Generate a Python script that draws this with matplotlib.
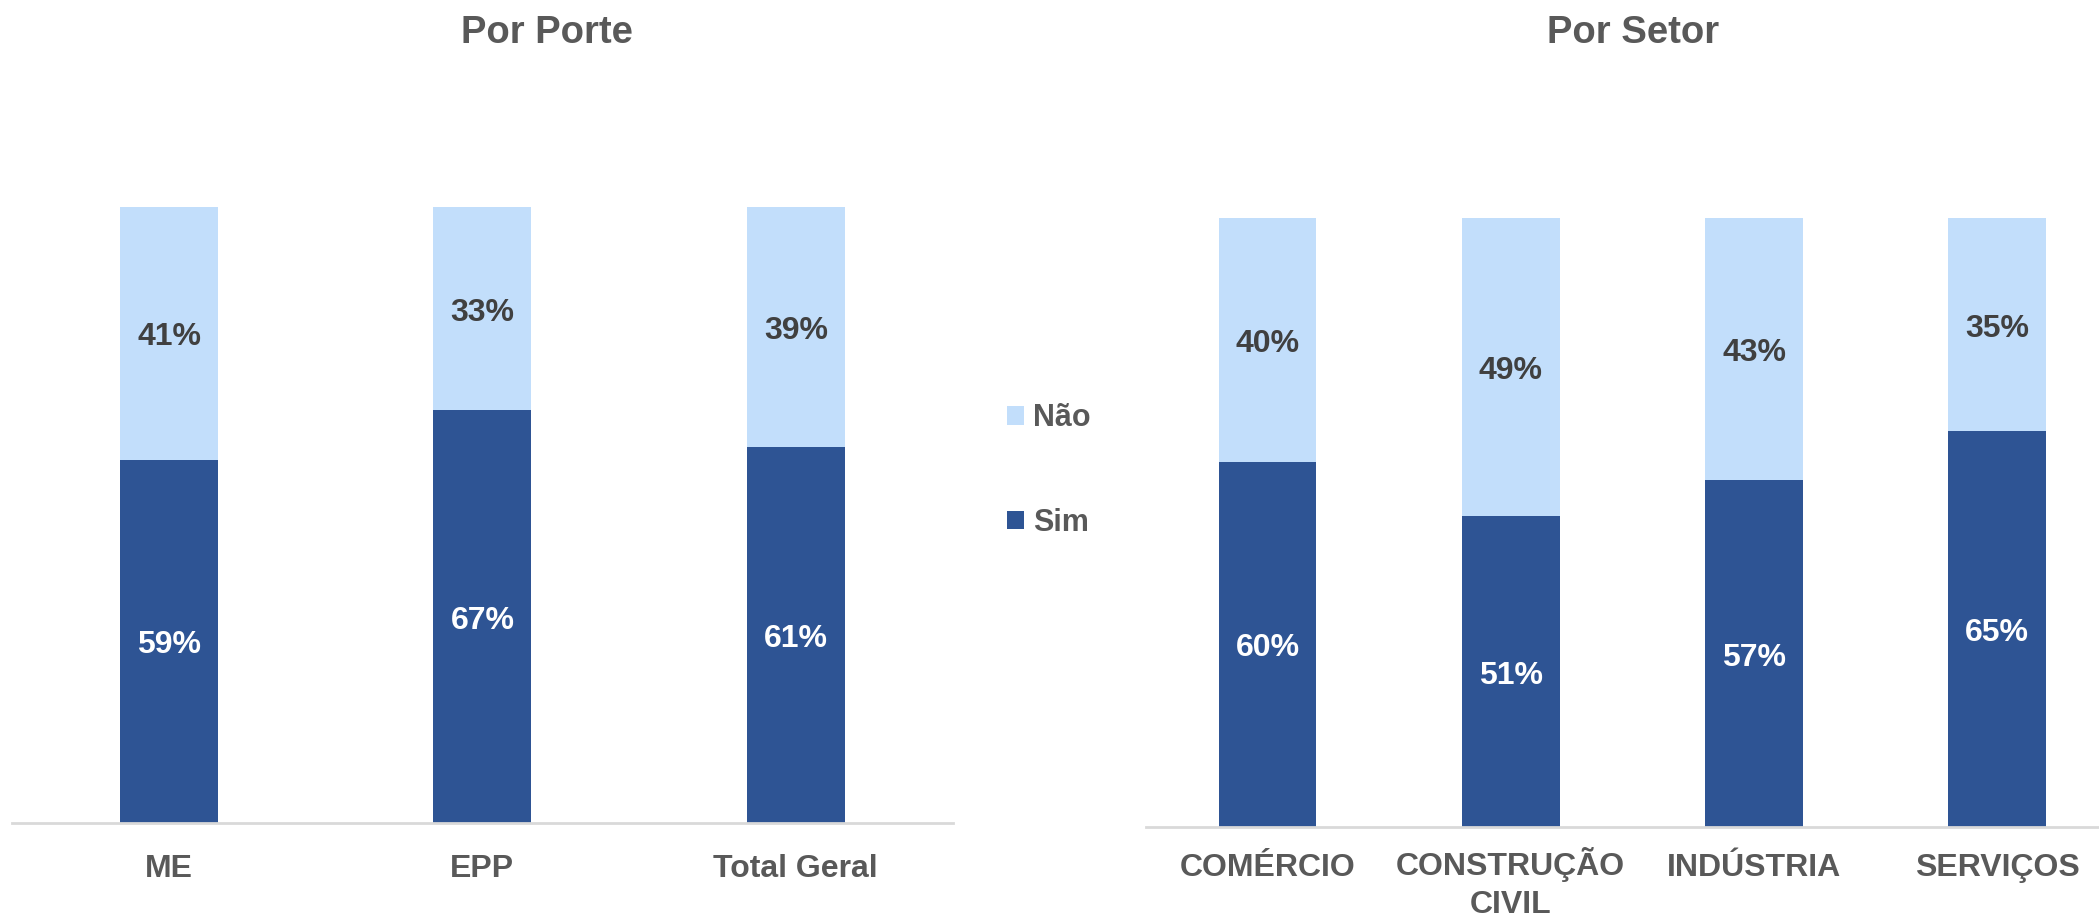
import matplotlib
matplotlib.use("Agg")
import matplotlib.pyplot as plt
from matplotlib.patches import Patch

plt.rcParams['font.family'] = ['Liberation Sans', 'DejaVu Sans']

# ---- data ----
porte_cats = ["ME", "EPP", "Total Geral"]
porte_sim = [0.59, 0.67, 0.61]
porte_nao = [0.41, 0.33, 0.39]

setor_cats = ["COMÉRCIO", "CONSTRUÇÃO\nCIVIL", "INDÚSTRIA", "SERVIÇOS"]
setor_sim = [0.60, 0.51, 0.57, 0.65]
setor_nao = [0.40, 0.49, 0.43, 0.35]

series_names = ["Sim", "Não"]
titles = ["Por Porte", "Por Setor"]

C_SIM = "#2E5494"
C_NAO = "#C2DEFB"
C_TXT = "#595959"
C_LBL_DARK = "#404040"
C_AXIS = "#D9D9D9"

W, H = 2099, 916
fig = plt.figure(figsize=(W / 100, H / 100), dpi=100)

def px_axes(x0, x1, ytop, ybot):
    return [x0 / W, (H - ybot) / H, (x1 - x0) / W, (ybot - ytop) / H]

ax1 = fig.add_axes(px_axes(12.3, 952.5, 207, 823))
ax2 = fig.add_axes(px_axes(1145.8, 2119, 218, 827))

def draw(ax, cats, sim, nao, width, pad):
    xs = list(range(len(cats)))
    b_sim = ax.bar(xs, sim, width=width, color=C_SIM, label=series_names[0], zorder=2)
    b_nao = ax.bar(xs, nao, width=width, bottom=sim, color=C_NAO, label=series_names[1], zorder=2)
    for x, s, n in zip(xs, sim, nao):
        ax.annotate(f"{round(s*100)}%", xy=(x, s / 2), xytext=(0, -3),
                    textcoords="offset points", ha="center", va="center",
                    color="white", fontsize=23, fontweight="bold")
        ax.annotate(f"{round(n*100)}%", xy=(x, s + n / 2), xytext=(0, -3),
                    textcoords="offset points", ha="center", va="center",
                    color=C_LBL_DARK, fontsize=23, fontweight="bold")
    ax.set_xlim(-0.5, len(cats) - 0.5)
    ax.set_ylim(0, 1)
    ax.set_xticks(xs)
    ax.set_xticklabels(cats, fontsize=23, fontweight="bold", color=C_TXT, linespacing=1.37)
    ax.tick_params(axis="x", length=0, pad=pad)
    ax.set_yticks([])
    for sp in ["top", "right", "left"]:
        ax.spines[sp].set_visible(False)
    ax.spines["bottom"].set_color(C_AXIS)
    ax.spines["bottom"].set_linewidth(2)
    ax.spines["bottom"].set_zorder(3)
    ax.patch.set_alpha(0)
    return b_sim, b_nao

draw(ax1, porte_cats, porte_sim, porte_nao, 0.3126, 22)
draw(ax2, setor_cats, setor_sim, setor_nao, 0.402, 19)

# lift the two-line label slightly so its first line sits level with the others
for lab in ax2.get_xticklabels():
    if "\n" in lab.get_text():
        lab.set_y(0.011)

fig.text(547 / W, (H - 43) / H, titles[0], ha="center", va="baseline",
         fontsize=27.5, fontweight="bold", color=C_TXT)
fig.text(1633 / W, (H - 43) / H, titles[1], ha="center", va="baseline",
         fontsize=27.5, fontweight="bold", color=C_TXT)

handles = [Patch(facecolor=C_NAO), Patch(facecolor=C_SIM)]
fig.legend(handles, [series_names[1], series_names[0]], loc="center left",
           bbox_to_anchor=(1007 / W, (H - 470.5) / H), frameon=False,
           prop={"size": 22, "weight": "bold"}, labelcolor=C_TXT,
           handlelength=0.55, handleheight=0.55, handletextpad=0.3,
           labelspacing=2.43, borderpad=0, borderaxespad=0)

fig.savefig("out.png", dpi=100)
